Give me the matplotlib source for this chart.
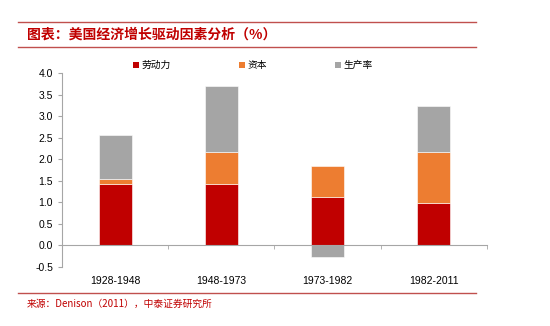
import matplotlib.pyplot as plt
from matplotlib.patches import Patch
from matplotlib.lines import Line2D

plt.rcParams['font.family'] = ['Liberation Sans', 'Noto Sans CJK SC', 'DejaVu Sans']

# data
periods = ['1928-1948', '1948-1973', '1973-1982', '1982-2011']
labor = [1.43, 1.41, 1.13, 0.99]
capital = [0.11, 0.75, 0.70, 1.17]
productivity = [1.01, 1.55, -0.27, 1.07]
series_names = ['劳动力', '资本', '生产率']
colors = ['#C00000', '#ED7D31', '#A5A5A5']

fig = plt.figure(figsize=(5.5, 3.26), dpi=100)
ax = fig.add_axes([0.1127, 0.182, 0.7727, 0.594])

x = list(range(len(periods)))
w = 0.31
ax.bar(x, labor, w, color=colors[0], edgecolor='white', linewidth=0.4)
ax.bar(x, capital, w, bottom=labor, color=colors[1], edgecolor='white', linewidth=0.4)
# productivity stacks on top when positive, below zero when negative
prod_bottom = [l + c if p >= 0 else 0 for l, c, p in zip(labor, capital, productivity)]
ax.bar(x, productivity, w, bottom=prod_bottom, color=colors[2], edgecolor='white', linewidth=0.4)

ax.set_xlim(-0.5, len(periods) - 0.5)
ax.set_ylim(-0.5, 4.0)
ax.set_yticks([i * 0.5 for i in range(-1, 9)])
ax.set_yticklabels([f'{i * 0.5:.1f}' for i in range(-1, 9)])

for s in ['top', 'right']:
    ax.spines[s].set_visible(False)
ax.spines['left'].set_color('#A6A6A6')
ax.spines['bottom'].set_color('#A6A6A6')
ax.spines['bottom'].set_position(('data', 0))

ax.set_xticks(x)
ax.set_xticklabels(periods)
ax.set_xticks([i + 0.5 for i in x], minor=True)
ax.tick_params(axis='x', which='major', length=0, pad=22, labelsize=7.5)
ax.tick_params(axis='x', which='minor', length=3, color='#A6A6A6', direction='out')
ax.tick_params(axis='y', length=3, color='#A6A6A6', labelsize=7.5)

handles = [Patch(facecolor=c) for c in colors]
fig.legend(handles, series_names, loc='center', bbox_to_anchor=(0.46, 0.80), ncol=3,
           frameon=False, fontsize=7, handlelength=0.6, handleheight=0.6,
           handletextpad=0.3, columnspacing=7, prop={'family': 'Noto Sans CJK SC', 'size': 7})

# title band lines
for yy in [0.933, 0.856, 0.101]:
    fig.add_artist(Line2D([0.033, 0.865], [yy, yy], color='#C0504D', linewidth=1.0,
                          transform=fig.transFigure))

fig.text(0.049, 0.895, '图表：美国经济增长驱动因素分析（%）', color='#C00000', fontsize=10,
         fontweight='bold', va='center', ha='left', family=['Noto Sans CJK SC', 'DejaVu Sans'])
fig.text(0.049, 0.067, '来源：Denison（2011），中泰证券研究所', color='#C00000', fontsize=7,
         va='center', ha='left', family=['Noto Sans CJK SC', 'DejaVu Sans'])

fig.savefig('out.png', dpi=100, facecolor='white')
